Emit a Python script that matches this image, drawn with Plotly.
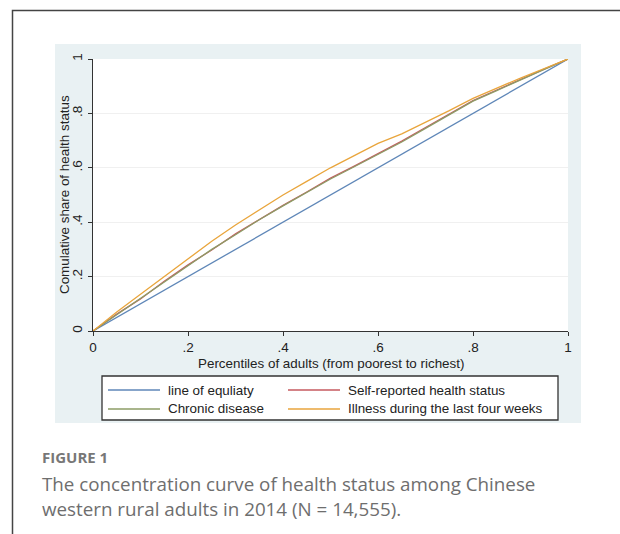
import plotly.graph_objects as go

# ---------------- data ----------------
pct = [0, 0.05, 0.10, 0.15, 0.20, 0.25, 0.30, 0.35, 0.40, 0.45, 0.50,
       0.55, 0.60, 0.65, 0.70, 0.75, 0.80, 0.85, 0.90, 0.95, 1.0]
equality = [0, 0.05, 0.10, 0.15, 0.20, 0.25, 0.30, 0.35, 0.40, 0.45, 0.50,
            0.55, 0.60, 0.65, 0.70, 0.75, 0.80, 0.85, 0.90, 0.95, 1.0]
self_reported = [0, 0.062, 0.118, 0.183, 0.243, 0.298, 0.357, 0.411, 0.462, 0.511, 0.562,
                 0.606, 0.652, 0.698, 0.748, 0.797, 0.847, 0.886, 0.926, 0.963, 1.0]
chronic = [0, 0.060, 0.121, 0.180, 0.240, 0.300, 0.354, 0.409, 0.460, 0.510, 0.559,
           0.604, 0.650, 0.695, 0.745, 0.794, 0.845, 0.884, 0.924, 0.962, 1.0]
illness = [0, 0.070, 0.135, 0.200, 0.265, 0.330, 0.390, 0.446, 0.500, 0.550, 0.600,
           0.645, 0.690, 0.725, 0.766, 0.810, 0.855, 0.894, 0.930, 0.965, 1.0]

x_ticks = [0, 0.2, 0.4, 0.6, 0.8, 1]
x_tick_text = ["0", ".2", ".4", ".6", ".8", "1"]
y_ticks = [0, 0.2, 0.4, 0.6, 0.8, 1]
y_tick_text = ["0", ".2", ".4", ".6", ".8", "1"]

names = ["line of equliaty", "Self-reported health status",
         "Chronic disease", "Illness during the last four weeks"]
colors = ["#5f87b8", "#c65a5f", "#8d9c66", "#e9a53c"]
series = [equality, self_reported, chronic, illness]

# ---------------- geometry (pixels) ----------------
W, H = 620, 534
L, R, T, B = 93, 568, 59, 331          # plot area

FONT = "Liberation Sans, Arial"


def px(x):
    return (x - L) / (R - L)


def py(y):
    return (B - y) / (B - T)


fig = go.Figure()
for name, col, ys in zip(names, colors, series):
    fig.add_trace(go.Scatter(x=pct, y=ys, mode="lines", name=name,
                             line=dict(color=col, width=1.3), showlegend=False))

shapes = []
# outer frame (left + top)
shapes.append(dict(type="path", xref="paper", yref="paper",
                   path=f"M {px(12.5)},{py(540)} L {px(12.5)},{py(10.5)} L {px(625)},{py(10.5)}",
                   line=dict(color="#444444", width=1.5), layer="below"))
# stata panel background
shapes.append(dict(type="rect", xref="paper", yref="paper",
                   x0=px(55), x1=px(581), y0=py(423), y1=py(44),
                   fillcolor="#e9f1f3", line=dict(width=0), layer="below"))
# white plot region
shapes.append(dict(type="rect", xref="paper", yref="paper",
                   x0=0, x1=1, y0=0, y1=1,
                   fillcolor="white", line=dict(width=0), layer="below"))
# legend box
shapes.append(dict(type="rect", xref="paper", yref="paper",
                   x0=px(102), x1=px(558), y0=py(420), y1=py(376),
                   fillcolor="white", line=dict(color="#333333", width=1.3), layer="above"))

annotations = []
leg_pos = [(108, 390), (288, 390), (108, 409), (288, 409)]
for (lx, ly), name, col in zip(leg_pos, names, colors):
    shapes.append(dict(type="line", xref="paper", yref="paper",
                       x0=px(lx), x1=px(lx + 52), y0=py(ly), y1=py(ly),
                       line=dict(color=col, width=1.5)))
    annotations.append(dict(xref="paper", yref="paper", x=px(lx + 58), y=py(ly),
                            text=name, showarrow=False, xanchor="left", yanchor="middle",
                            font=dict(family=FONT, size=13.4, color="#222222")))

# axis titles
annotations.append(dict(xref="paper", yref="paper", x=px(64), y=0.5,
                        text="Comulative share of health status", textangle=-90,
                        showarrow=False, xanchor="center", yanchor="middle",
                        font=dict(family=FONT, size=13.4, color="#222222")))
annotations.append(dict(xref="paper", yref="paper", x=0.5, y=py(363),
                        text="Percentiles of adults (from poorest to richest)",
                        showarrow=False, xanchor="center", yanchor="middle",
                        font=dict(family=FONT, size=13.4, color="#222222")))

# caption
annotations.append(dict(xref="paper", yref="paper", x=px(40), y=py(457),
                        text="<b>FIGURE 1</b>", showarrow=False, xanchor="left", yanchor="middle",
                        font=dict(family="Open Sans", size=15, color="#777777")))
annotations.append(dict(xref="paper", yref="paper", x=px(40), y=py(484),
                        text="The concentration curve of health status among Chinese",
                        showarrow=False, xanchor="left", yanchor="middle",
                        font=dict(family="Open Sans", size=18.8, color="#6e6e6e")))
annotations.append(dict(xref="paper", yref="paper", x=px(40), y=py(509),
                        text="western rural adults in 2014 (N = 14,555).",
                        showarrow=False, xanchor="left", yanchor="middle",
                        font=dict(family="Open Sans", size=18.8, color="#6e6e6e")))

fig.update_layout(
    width=W, height=H,
    margin=dict(l=L, r=W - R, t=T, b=H - B, pad=0),
    paper_bgcolor="white", plot_bgcolor="rgba(0,0,0,0)",
    shapes=shapes, annotations=annotations, showlegend=False,
    font=dict(family=FONT, size=13, color="#222222"),
)
fig.update_xaxes(range=[0, 1], tickvals=x_ticks, ticktext=x_tick_text,
                 showline=True, linecolor="#333333", linewidth=1.3,
                 ticks="outside", ticklen=4, tickcolor="#333333", tickwidth=1.2,
                 showgrid=False, zeroline=False,
                 tickfont=dict(family=FONT, size=13.5, color="#222222"))
fig.update_yaxes(range=[0, 1], tickvals=y_ticks, ticktext=y_tick_text, tickangle=-90,
                 showline=True, linecolor="#333333", linewidth=1.3,
                 ticks="outside", ticklen=4, tickcolor="#333333", tickwidth=1.2,
                 showgrid=True, gridcolor="#f0f0f0", gridwidth=1, zeroline=False,
                 tickfont=dict(family=FONT, size=13.5, color="#222222"))

fig.write_html("out.html", config={"displayModeBar": False},
               post_script="document.body.style.margin='0px';document.body.style.overflow='hidden';")
